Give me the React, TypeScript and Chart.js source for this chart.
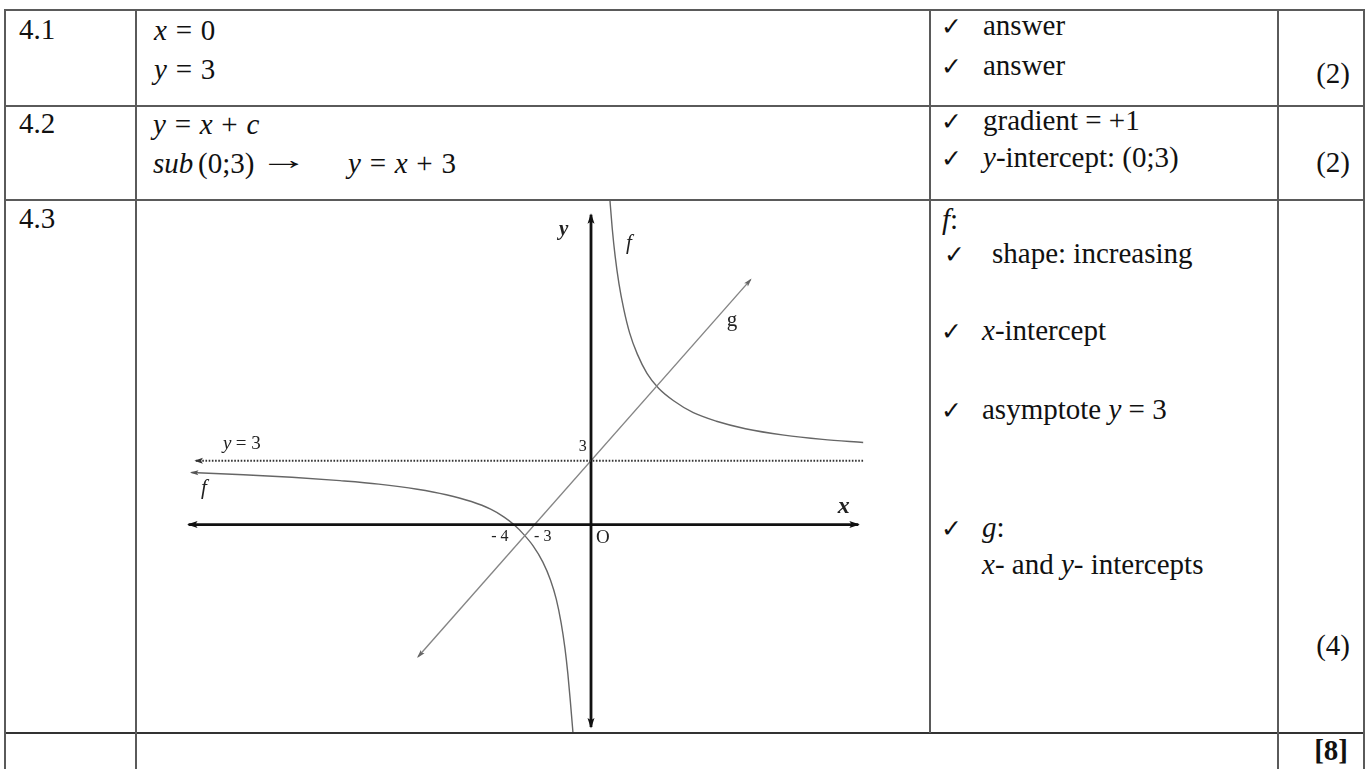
import React, { useEffect, useRef } from "react";
import { Chart, registerables } from "chart.js";

Chart.register(...registerables);

// ---------- graph data (graph units) ----------
const fLeftX = [-20.7, -18, -15.5, -13, -11, -9, -7.5, -6.2, -5.2, -4.5, -4.0, -3.5, -3.0, -2.5, -2.1, -1.8, -1.55, -1.35, -1.2, -1.07, -0.95, -0.9];
const fLeftY = [2.44, 2.34, 2.22, 2.06, 1.9, 1.66, 1.4, 1.08, 0.72, 0.35, 0, -0.45, -1.0, -1.75, -2.6, -3.5, -4.6, -5.8, -7.0, -8.3, -9.6, -10.2];
const fRightX = [0.92, 1.0, 1.1, 1.25, 1.45, 1.7, 2.0, 2.4, 2.9, 3.5, 4.3, 5.3, 6.5, 8.0, 10.0, 12.0, 14.1];
const fRightY = [16.0, 15.0, 13.9, 12.6, 11.3, 10.1, 9.0, 8.0, 7.1, 6.4, 5.8, 5.25, 4.85, 4.5, 4.2, 4.0, 3.85];
const gX = [-8.96, 8.27];
const gY = [-6.21, 11.5];
const asymX = [-20.47, 14.12];
const asymY = [3, 3];
const xAxisX = [-20.85, 13.85];
const xAxisY = [0, 0];
const yAxisX = [0, 0];
const yAxisY = [-9.5, 14.55];

const xMin = -23.52;
const xMax = 17.51;
const yMin = -9.74;
const yMax = 15.19;

const SERIF = '"Liberation Serif", "Times New Roman", serif';

const graphLabels = [
  { text: "y", x: -1.42, y: 13.83, font: `italic bold 21px ${SERIF}`, align: "center" },
  { text: "f", x: 1.97, y: 13.2, font: `italic 21px ${SERIF}`, align: "center" },
  { text: "g", x: 7.3, y: 9.6, font: `21px ${SERIF}`, align: "center" },
  { text: "x", x: 13.1, y: 0.85, font: `italic bold 24px ${SERIF}`, align: "center" },
  { text: "y", x: -19.07, y: 3.8, font: `italic 19px ${SERIF}`, align: "left" },
  { text: "= 3", x: -18.4, y: 3.8, font: `19px ${SERIF}`, align: "left" },
  { text: "3", x: -0.43, y: 3.65, font: `16px ${SERIF}`, align: "center" },
  { text: "f", x: -20.05, y: 1.68, font: `italic 21px ${SERIF}`, align: "center" },
  { text: "- 4", x: -4.72, y: -0.56, font: `16px ${SERIF}`, align: "center" },
  { text: "- 3", x: -2.5, y: -0.56, font: `16px ${SERIF}`, align: "center" },
  { text: "O", x: 0.62, y: -0.62, font: `19px ${SERIF}`, align: "center" },
];

const pts = (xs: number[], ys: number[]) => xs.map((x, i) => ({ x, y: ys[i] }));

const arrowPlugin = {
  id: "arrowHeads",
  afterDatasetsDraw(chart: any) {
    const ctx = chart.ctx;
    chart.data.datasets.forEach((ds: any, i: number) => {
      const a = ds.arrows;
      if (!a) return;
      const els = chart.getDatasetMeta(i).data;
      if (els.length < 2) return;
      const head = (p: any, q: any) => {
        const dx = p.x - q.x;
        const dy = p.y - q.y;
        const d = Math.hypot(dx, dy) || 1;
        const ux = dx / d;
        const uy = dy / d;
        const len = a.len;
        const half = a.half;
        ctx.save();
        ctx.fillStyle = a.color;
        ctx.beginPath();
        ctx.moveTo(p.x + ux * 1.5, p.y + uy * 1.5);
        ctx.lineTo(p.x - ux * len - uy * half, p.y - uy * len + ux * half);
        ctx.lineTo(p.x - ux * len * 0.75, p.y - uy * len * 0.75);
        ctx.lineTo(p.x - ux * len + uy * half, p.y - uy * len - ux * half);
        ctx.closePath();
        ctx.fill();
        ctx.restore();
      };
      if (a.start) head(els[0], els[1]);
      if (a.end) head(els[els.length - 1], els[els.length - 2]);
    });
  },
};

const labelPlugin = {
  id: "graphLabels",
  afterDraw(chart: any) {
    const ctx = chart.ctx;
    const sx = chart.scales.x;
    const sy = chart.scales.y;
    ctx.save();
    ctx.fillStyle = "#222";
    ctx.textBaseline = "middle";
    graphLabels.forEach((l) => {
      ctx.font = l.font;
      ctx.textAlign = l.align;
      ctx.fillText(l.text, sx.getPixelForValue(l.x), sy.getPixelForValue(l.y));
    });
    ctx.restore();
  },
};

function Graph() {
  const ref = useRef<HTMLCanvasElement | null>(null);
  useEffect(() => {
    if (!ref.current) return;
    const base = { showLine: true, pointRadius: 0, pointHoverRadius: 0, fill: false };
    const chart = new Chart(ref.current, {
      type: "scatter",
      data: {
        datasets: [
          { ...base, label: "y = 3", data: pts(asymX, asymY), borderColor: "#333", borderWidth: 2, borderDash: [1.6, 1.6], arrows: { start: true, len: 7, half: 3, color: "#333" } } as any,
          { ...base, label: "x-axis", data: pts(xAxisX, xAxisY), borderColor: "#111", borderWidth: 2.8, arrows: { start: true, end: true, len: 9, half: 3.5, color: "#111" } } as any,
          { ...base, label: "y-axis", data: pts(yAxisX, yAxisY), borderColor: "#111", borderWidth: 2.8, arrows: { start: true, end: true, len: 9, half: 3.5, color: "#111" } } as any,
          { ...base, label: "g", data: pts(gX, gY), borderColor: "#858585", borderWidth: 1.4, arrows: { start: true, end: true, len: 7, half: 2.5, color: "#666" } } as any,
          { ...base, label: "f left", data: pts(fLeftX, fLeftY), borderColor: "#666", borderWidth: 1.4, cubicInterpolationMode: "monotone", arrows: { start: true, len: 7, half: 2.5, color: "#555" } } as any,
          { ...base, label: "f right", data: pts(fRightX, fRightY), borderColor: "#666", borderWidth: 1.4, cubicInterpolationMode: "monotone" } as any,
        ],
      },
      options: {
        animation: false,
        responsive: false,
        maintainAspectRatio: false,
        devicePixelRatio: 1,
        layout: { padding: 0 },
        events: [],
        plugins: { legend: { display: false }, tooltip: { enabled: false } },
        scales: {
          x: { type: "linear", min: xMin, max: xMax, display: false },
          y: { type: "linear", min: yMin, max: yMax, display: false },
        },
      },
      plugins: [arrowPlugin, labelPlugin],
    } as any);
    return () => chart.destroy();
  }, []);
  return (
    <canvas
      ref={ref}
      width={792}
      height={531}
      style={{ position: "absolute", left: 137, top: 201, width: 792, height: 531 }}
    />
  );
}

const LINE = "#5a5a5a";

function H({ y, x1 = 5, x2 = 1365, color = LINE }: any) {
  return <div style={{ position: "absolute", left: x1, top: y - 1, width: x2 - x1, height: 2, background: color }} />;
}
function V({ x, y1 = 10, y2 = 769, color = LINE }: any) {
  return <div style={{ position: "absolute", left: x - 1, top: y1 - 1, width: 2, height: y2 - y1 + 1, background: color }} />;
}

function T({ x, b, size = 29, children, style }: any) {
  return (
    <span
      style={{
        position: "absolute",
        left: x,
        top: b - size * 0.8375,
        fontSize: size,
        lineHeight: `${size}px`,
        whiteSpace: "pre",
        color: "#111",
        ...style,
      }}
    >
      {children}
    </span>
  );
}
function R({ r, b, size = 29, children, style }: any) {
  return (
    <span
      style={{
        position: "absolute",
        right: 1368 - r,
        top: b - size * 0.8375,
        fontSize: size,
        lineHeight: `${size}px`,
        whiteSpace: "nowrap",
        color: "#111",
        ...style,
      }}
    >
      {children}
    </span>
  );
}
function Tick({ x, b }: any) {
  const size = 25;
  return (
    <span
      style={{
        position: "absolute",
        left: x,
        top: b - size * 0.846,
        fontSize: size,
        lineHeight: `${size}px`,
        fontFamily: '"DejaVu Sans", sans-serif',
        fontWeight: "bold",
        color: "#111",
      }}
    >
      ✓
    </span>
  );
}

const MATH = { wordSpacing: "1.5px" };

export default function App() {
  useEffect(() => {
    document.body.style.margin = "0";
  }, []);
  return (
    <div
      style={{
        position: "absolute",
        left: 0,
        top: 0,
        width: 1368,
        height: 769,
        overflow: "hidden",
        background: "#fff",
        fontFamily: SERIF,
      }}
    >
      <Graph />

      {/* table rules */}
      <H y={10} />
      <H y={106} />
      <H y={200} />
      <H y={733} color="#333" />
      <V x={5} />
      <V x={136} />
      <V x={930} y2={733} />
      <V x={1278} />
      <V x={1364} />

      {/* question numbers */}
      <T x={19} b={39}>4.1</T>
      <T x={19} b={133}>4.2</T>
      <T x={19} b={228}>4.3</T>

      {/* row 4.1 */}
      <T x={154} b={40} style={MATH}><i>x</i> = 0</T>
      <T x={154} b={79} style={MATH}><i>y</i> = 3</T>
      <Tick x={941} b={35} />
      <T x={983} b={35}>answer</T>
      <Tick x={941} b={75} />
      <T x={983} b={75}>answer</T>
      <R r={1350} b={83}>(2)</R>

      {/* row 4.2 */}
      <T x={153} b={134} style={MATH}><i>y</i> = <i>x</i> + <i>c</i></T>
      <T x={153} b={173}><i>sub</i></T>
      <T x={198} b={173}>(0;3)</T>
      <T x={259} b={169} style={{ transform: "scaleX(1.7)", transformOrigin: "left center" }}>→</T>
      <T x={348} b={173} style={MATH}><i>y</i> = <i>x</i> + 3</T>
      <Tick x={941} b={130} />
      <T x={983} b={130}>gradient = +1</T>
      <Tick x={941} b={167} />
      <T x={983} b={167}><i>y</i>-intercept: (0;3)</T>
      <R r={1350} b={172}>(2)</R>

      {/* row 4.3 */}
      <T x={942} b={229}><i>f</i>:</T>
      <Tick x={944} b={263} />
      <T x={992} b={263}>shape: increasing</T>
      <Tick x={941} b={340} />
      <T x={982} b={340}><i>x</i>-intercept</T>
      <Tick x={941} b={419} />
      <T x={982} b={419}>asymptote <i>y</i> = 3</T>
      <Tick x={941} b={537} />
      <T x={982} b={537}><i>g</i>:</T>
      <T x={982} b={574}><i>x</i>- and <i>y</i>- intercepts</T>
      <R r={1350} b={655}>(4)</R>

      {/* total */}
      <R r={1348} b={760} style={{ fontWeight: "bold" }}>[8]</R>
    </div>
  );
}
